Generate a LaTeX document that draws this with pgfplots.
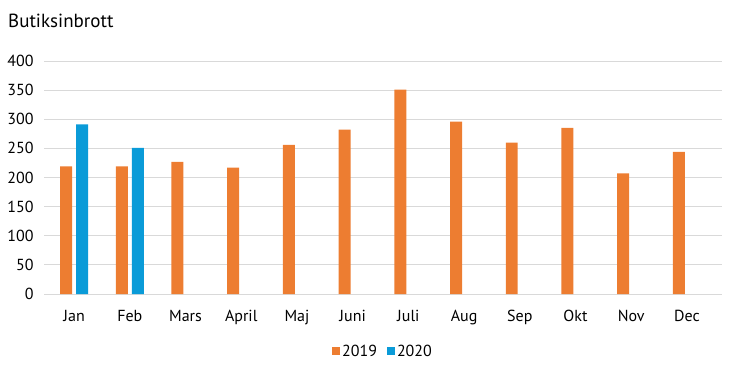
\documentclass[border=0pt]{standalone}
\usepackage{pgfplots}
\pgfplotsset{compat=1.18}
\usepackage{fontspec}
\setmainfont{PT Sans}
\definecolor{c19}{HTML}{ED7D31}
\definecolor{c20}{HTML}{0A9BD8}
\definecolor{gridc}{HTML}{D9D9D9}
\begin{document}
\begin{tikzpicture}[x=1bp,y=1bp]
\path[use as bounding box] (0,0) rectangle (739,373);
\node[anchor=base west,inner sep=0pt,font=\fontsize{19bp}{22bp}\selectfont] at (8,346) {Butiksinbrott};
\begin{axis}[
  at={(44bp,79bp)}, anchor=south west,
  scale only axis, width=678bp, height=233bp,
  ymin=0, ymax=400, ytick={0,50,...,400},
  xmin=-0.54, xmax=11.63,
  xtick={0,...,11},
  xticklabels={Jan,Feb,Mars,April,Maj,Juni,Juli,Aug,Sep,Okt,Nov,Dec},
  ybar, bar width=0.215,
  ymajorgrids, grid style={gridc, line width=0.8bp},
  axis line style={draw=none},
  major tick length=0pt,
  tick label style={font=\fontsize{16bp}{18bp}\selectfont},
  /pgf/number format/assume math mode=true,
  yticklabel style={xshift=-7bp},
  xticklabel style={anchor=base, yshift=-27bp},
  legend style={at={(0.5,-0.249)}, anchor=center, draw=none, legend columns=2,
    font=\fontsize{16bp}{18bp}\selectfont,
    /tikz/every even column/.append style={column sep=8bp}},
  legend image code/.code={\fill[#1] (0bp,-3bp) rectangle (8bp,5bp);},
]
\addplot[fill=c19, draw=none, bar shift=-0.144] coordinates {
(0,219) (1,219) (2,227) (3,217) (4,256) (5,282) (6,351) (7,296) (8,260) (9,285) (10,207) (11,244)};
\addplot[fill=c20, draw=none, bar shift=0.144] coordinates {
(0,291) (1,251)};
\legend{2019,2020}
\end{axis}
\end{tikzpicture}
\end{document}
